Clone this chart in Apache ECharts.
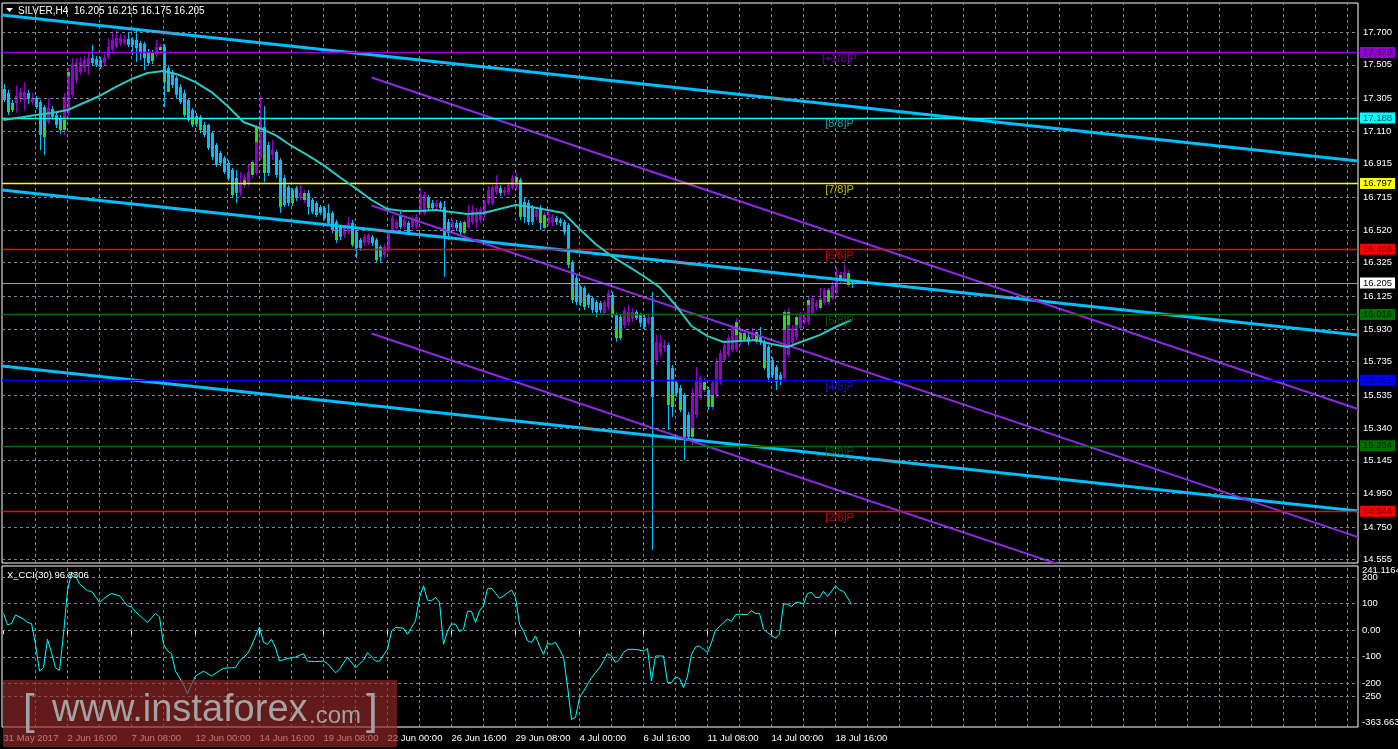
<!DOCTYPE html>
<html><head><meta charset="utf-8">
<script src="https://cdn.jsdelivr.net/npm/echarts/dist/echarts.min.js"></script>
<style>html,body{margin:0;padding:0;background:#000;}#c{width:1398px;height:749px;}</style>
</head><body><div id="c"></div>
<script>
// ---------------- DATA ----------------
const candleOpen = [
17.361,17.337,17.277,17.277,17.301,17.295,17.337,17.283,17.307,17.283,
17.253,17.164,17.241,17.206,17.188,17.116,17.218,17.325,17.414,17.462,
17.486,17.504,17.545,17.539,17.533,17.516,17.551,17.593,17.611,17.635,
17.635,17.659,17.653,17.653,17.635,17.629,17.581,17.575,17.563,17.593,
17.611,17.486,17.462,17.426,17.372,17.337,17.295,17.235,17.200,17.194,
17.146,17.146,17.098,17.027,16.979,16.949,16.920,16.878,16.830,16.741,
16.788,16.800,16.848,16.860,16.949,17.134,17.027,16.967,16.985,16.937,
16.830,16.776,16.759,16.770,16.711,16.699,16.741,16.699,16.681,16.657,
16.651,16.622,16.622,16.568,16.538,16.490,16.508,16.562,16.508,16.461,
16.443,16.443,16.479,16.461,16.419,16.371,16.401,16.508,16.532,16.610,
16.538,16.562,16.538,16.538,16.628,16.622,16.717,16.681,16.657,16.681,
16.657,16.568,16.538,16.562,16.562,16.502,16.538,16.568,16.568,16.580,
16.610,16.681,16.681,16.747,16.770,16.741,16.747,16.770,16.776,16.818,
16.687,16.681,16.651,16.598,16.651,16.532,16.562,16.562,16.592,16.580,
16.568,16.550,16.329,16.234,16.181,16.175,16.133,16.115,16.091,16.085,
16.026,16.061,16.133,16.014,16.002,15.954,15.972,15.996,16.031,16.014,
15.996,15.966,16.002,15.745,15.793,15.817,15.835,15.698,15.608,15.578,
15.537,15.418,15.287,15.418,15.519,15.567,15.567,15.465,15.537,15.614,
15.745,15.775,15.805,15.805,15.853,15.865,15.882,15.877,15.853,15.882,
15.847,15.823,15.745,15.704,15.656,15.638,15.775,15.847,15.882,15.936,
15.972,15.972,16.026,16.061,16.055,16.085,16.091,16.115,16.145,16.222,
16.222,16.192,16.205];
const candleHigh = [
17.390,17.355,17.295,17.384,17.367,17.402,17.355,17.337,17.319,17.295,
17.265,17.307,17.259,17.223,17.206,17.337,17.486,17.545,17.545,17.551,
17.557,17.581,17.623,17.557,17.551,17.569,17.665,17.700,17.712,17.688,
17.682,17.694,17.670,17.724,17.647,17.641,17.599,17.593,17.653,17.629,
17.629,17.504,17.474,17.438,17.390,17.355,17.307,17.247,17.218,17.206,
17.164,17.152,17.110,17.039,16.991,16.961,16.937,16.890,16.878,16.866,
16.854,16.908,16.937,17.146,17.325,17.259,17.045,17.057,16.997,16.949,
16.848,16.788,16.770,16.782,16.788,16.759,16.759,16.711,16.693,16.669,
16.663,16.675,16.633,16.580,16.550,16.544,16.598,16.580,16.520,16.473,
16.496,16.502,16.490,16.473,16.431,16.437,16.520,16.610,16.580,16.628,
16.598,16.574,16.610,16.616,16.770,16.747,16.729,16.699,16.699,16.693,
16.693,16.586,16.580,16.580,16.574,16.580,16.669,16.669,16.651,16.657,
16.699,16.782,16.788,16.848,16.788,16.776,16.806,16.848,16.860,16.830,
16.711,16.699,16.669,16.657,16.669,16.628,16.639,16.616,16.604,16.592,
16.580,16.562,16.341,16.252,16.192,16.187,16.145,16.127,16.103,16.097,
16.103,16.163,16.151,16.026,16.014,16.061,16.073,16.055,16.043,16.026,
16.014,16.014,16.151,15.894,15.894,15.865,15.847,15.716,15.626,15.596,
15.549,15.435,15.578,15.704,15.656,15.638,15.584,15.626,15.757,15.805,
15.865,15.894,15.954,15.996,15.936,15.924,15.906,15.936,15.924,15.942,
15.865,15.835,15.763,15.716,15.674,16.043,16.055,15.954,16.014,16.031,
16.026,16.121,16.133,16.103,16.175,16.175,16.175,16.210,16.294,16.270,
16.312,16.282,16.215];
const candleLow = [
17.283,17.206,17.223,17.218,17.283,17.235,17.271,17.265,17.241,16.997,
16.967,17.152,17.176,17.128,17.092,17.086,17.200,17.307,17.390,17.444,
17.462,17.444,17.504,17.492,17.480,17.498,17.539,17.581,17.599,17.617,
17.623,17.611,17.563,17.521,17.533,17.474,17.504,17.510,17.551,17.581,
17.253,17.343,17.367,17.307,17.271,17.194,17.164,17.134,17.134,17.098,
17.074,16.997,16.937,16.896,16.902,16.854,16.812,16.711,16.681,16.723,
16.770,16.782,16.830,16.848,16.937,16.806,16.842,16.937,16.830,16.622,
16.657,16.663,16.663,16.693,16.699,16.681,16.610,16.616,16.598,16.610,
16.580,16.550,16.502,16.443,16.461,16.473,16.496,16.419,16.353,16.395,
16.425,16.431,16.425,16.329,16.324,16.353,16.389,16.496,16.514,16.526,
16.526,16.490,16.526,16.526,16.616,16.610,16.633,16.633,16.639,16.633,
16.240,16.461,16.520,16.514,16.490,16.490,16.526,16.550,16.532,16.562,
16.592,16.669,16.669,16.729,16.723,16.723,16.729,16.759,16.759,16.580,
16.562,16.550,16.550,16.580,16.520,16.520,16.544,16.544,16.550,16.544,
16.490,16.294,16.085,16.073,16.067,16.043,16.055,16.026,16.002,16.026,
16.014,16.043,15.996,15.853,15.865,15.936,15.954,15.972,15.984,15.942,
15.924,15.954,14.613,15.716,15.763,15.793,15.328,15.406,15.525,15.435,
15.149,15.269,15.239,15.400,15.507,15.555,15.447,15.447,15.519,15.596,
15.734,15.763,15.793,15.793,15.835,15.853,15.835,15.865,15.835,15.835,
15.686,15.614,15.638,15.567,15.596,15.626,15.757,15.835,15.865,15.924,
15.954,15.954,16.014,16.043,16.043,16.073,16.073,16.103,16.133,16.204,
16.210,16.181,16.175];
const candleClose = [
17.295,17.223,17.235,17.319,17.343,17.343,17.301,17.307,17.253,17.086,
17.074,17.247,17.194,17.146,17.116,17.313,17.462,17.510,17.516,17.521,
17.533,17.545,17.516,17.504,17.492,17.551,17.611,17.653,17.665,17.665,
17.659,17.623,17.623,17.605,17.581,17.545,17.516,17.527,17.611,17.611,
17.402,17.367,17.384,17.325,17.283,17.206,17.176,17.146,17.152,17.116,
17.086,17.009,16.955,16.908,16.920,16.866,16.830,16.729,16.741,16.800,
16.836,16.866,16.926,17.134,17.194,16.860,16.860,16.997,16.848,16.657,
16.669,16.681,16.681,16.711,16.741,16.741,16.657,16.628,16.610,16.622,
16.592,16.562,16.520,16.461,16.479,16.532,16.562,16.431,16.413,16.413,
16.479,16.490,16.443,16.341,16.359,16.419,16.502,16.592,16.568,16.538,
16.580,16.508,16.592,16.598,16.729,16.729,16.651,16.651,16.681,16.651,
16.479,16.502,16.568,16.532,16.508,16.568,16.622,16.639,16.628,16.639,
16.681,16.759,16.776,16.788,16.741,16.759,16.788,16.830,16.836,16.598,
16.598,16.568,16.568,16.639,16.562,16.610,16.592,16.598,16.568,16.562,
16.508,16.312,16.103,16.091,16.085,16.061,16.073,16.043,16.031,16.043,
16.091,16.145,16.014,15.877,15.877,16.043,16.031,16.031,15.996,15.966,
15.942,15.996,15.525,15.853,15.847,15.835,15.477,15.465,15.549,15.447,
15.287,15.287,15.549,15.626,15.638,15.614,15.465,15.608,15.734,15.787,
15.835,15.877,15.936,15.972,15.906,15.906,15.853,15.912,15.912,15.853,
15.698,15.638,15.656,15.614,15.626,16.031,16.031,15.936,16.002,16.014,
16.002,16.103,16.115,16.085,16.115,16.163,16.163,16.192,16.252,16.252,
16.270,16.264,16.205];

// green (lime) body segments visible on some bars: [bar, top price, bottom price]
const greenSegments = [[1,17.247,17.223],[2,17.265,17.235],[10,17.128,17.074],[14,17.146,17.116],[15,17.176,17.116],[16,17.462,17.438],[37,17.575,17.527],[39,17.611,17.593],[40,17.432,17.402],[41,17.372,17.343],[45,17.247,17.206],[47,17.176,17.146],[48,17.200,17.152],[49,17.146,17.116],[57,16.776,16.729],[60,16.818,16.788],[62,16.926,16.848],[63,17.134,17.045],[65,16.979,16.860],[69,16.717,16.657],[72,16.729,16.681],[75,16.741,16.699],[83,16.496,16.461],[87,16.490,16.431],[93,16.383,16.341],[106,16.681,16.651],[115,16.568,16.502],[124,16.759,16.741],[128,16.836,16.806],[129,16.669,16.598],[134,16.610,16.562],[135,16.610,16.532],[141,16.383,16.312],[142,16.163,16.103],[145,16.103,16.061],[152,16.073,16.014],[153,15.936,15.877],[154,15.924,15.877],[166,15.549,15.477],[167,15.549,15.465],[169,15.489,15.447],[172,15.340,15.287],[175,15.614,15.567],[176,15.519,15.465],[177,15.537,15.465],[183,15.972,15.894],[184,15.906,15.853],[185,15.906,15.865],[188,15.912,15.853],[190,15.745,15.698],[195,16.031,15.924],[196,16.031,15.954],[198,16.002,15.954],[201,16.103,16.073],[204,16.103,16.055],[206,16.163,16.091],[209,16.252,16.222],[211,16.264,16.192]];

// moving average, read every 4 bars: [bar, price]
const maPoints = [[0,17.176],[4,17.190],[8,17.205],[12,17.217],[16,17.235],[20,17.277],[24,17.319],[28,17.372],[32,17.420],[36,17.456],[40,17.468],[44,17.444],[48,17.402],[52,17.342],[56,17.259],[60,17.164],[64,17.128],[68,17.086],[72,17.021],[76,16.967],[80,16.907],[84,16.836],[88,16.770],[92,16.699],[96,16.645],[100,16.633],[104,16.633],[108,16.639],[112,16.627],[116,16.615],[120,16.621],[124,16.645],[128,16.669],[132,16.657],[136,16.639],[140,16.621],[144,16.526],[148,16.437],[152,16.365],[156,16.306],[160,16.246],[164,16.180],[168,16.073],[172,15.948],[176,15.888],[180,15.853],[184,15.859],[188,15.865],[192,15.841],[196,15.823],[200,15.859],[204,15.894],[208,15.942],[212,15.984]];

// CCI(30): [bar, value]
const cciPoints = [[0,63],[1,20],[2,25],[3,57],[5,42],[6,29],[7,25],[8,-53],[9,-154],[10,-141],[11,-34],[12,-84],[13,-141],[14,-151],[15,-15],[16,148],[17,218],[18,205],[19,174],[21,148],[22,146],[24,105],[26,129],[27,138],[29,129],[31,92],[32,88],[33,70],[35,42],[36,29],[38,63],[39,50],[40,-53],[41,-78],[42,-88],[43,-154],[45,-204],[46,-239],[47,-204],[48,-172],[50,-154],[52,-172],[55,-143],[57,-141],[58,-141],[59,-116],[61,-88],[62,-59],[64,12],[65,-46],[66,-53],[67,-34],[68,-65],[69,-116],[71,-106],[73,-101],[75,-88],[76,-116],[78,-118],[80,-116],[81,-126],[83,-160],[84,-147],[86,-101],[88,-141],[90,-113],[91,-84],[93,-116],[94,-116],[96,-72],[97,-3],[98,10],[100,8],[101,-15],[103,35],[104,123],[105,167],[106,113],[107,111],[108,123],[109,105],[110,-53],[111,-3],[112,23],[113,23],[114,-5],[115,4],[116,71],[117,71],[118,29],[119,73],[120,92],[121,155],[122,158],[124,120],[125,129],[127,151],[128,123],[129,23],[130,-3],[131,-40],[132,-46],[133,-22],[134,-59],[135,-91],[136,-50],[137,-53],[138,-46],[139,-72],[140,-101],[141,-210],[142,-336],[143,-327],[144,-254],[145,-229],[147,-179],[149,-141],[150,-116],[151,-88],[152,-97],[153,-122],[154,-109],[155,-84],[156,-72],[158,-72],[160,-78],[161,-69],[162,-191],[163,-97],[165,-97],[166,-197],[167,-197],[168,-176],[169,-181],[170,-216],[171,-172],[172,-91],[173,-63],[174,-59],[175,-72],[176,-84],[177,-46],[178,0],[181,42],[182,33],[183,58],[184,60],[186,58],[187,73],[188,63],[189,63],[190,4],[191,-9],[193,-30],[194,-15],[195,98],[196,98],[197,88],[198,105],[199,105],[200,98],[201,138],[202,142],[203,123],[204,123],[205,146],[206,127],[207,146],[208,167],[209,151],[210,146],[212,96.8306]];

// Murrey math levels
const murreyLevels = [17.578, 17.188, 16.797, 16.406, 16.016, 15.625, 15.234, 14.844];
const murreyNames  = ['[+1/8]P','[8/8]P','[7/8]P','[6/8]P','[5/8]P','[4/8]P','[3/8]P','[2/8]P'];
const currentPrice = 16.205;

// regression channels: [price at left edge, price at right edge]
const blueChannel = [[17.802, 16.931], [16.759, 15.894], [15.710, 14.845]];
const purpleStartBar = 92;
const purpleChannel = [[17.429, 15.453], [16.666, 14.690], [15.903, 13.928]];

// axes
const priceTicks = [17.700,17.505,17.305,17.110,16.915,16.715,16.520,16.325,16.125,15.930,15.735,15.535,15.340,15.145,14.950,14.750,14.555];
const cciTicks = [241.1164, 200, 100, 0, -100, -200, -250, -363.663];
const cciTickLabels = ['241.1164','200','100','0.00','-100','-200','-250','-363.663'];
const dateTickBars = [0,16,32,48,64,80,96,112,128,144,160,176,192,208];
const dateTickLabels = ['31 May 2017','2 Jun 16:00','7 Jun 08:00','12 Jun 00:00','14 Jun 16:00','19 Jun 08:00','22 Jun 00:00','26 Jun 16:00','29 Jun 08:00','4 Jul 00:00','6 Jul 16:00','11 Jul 08:00','14 Jul 00:00','18 Jul 16:00'];
const murreyLabelBar = 209;
const xMin = -0.375, xMax = 338.625;
const yMin = 14.5355, yMax = 17.8731;
const cciMin = -363.663, cciMax = 241.1164;

// ---------------- STYLE ----------------
const FONT = 'Liberation Sans, Arial, sans-serif';
const GRID_COLOR = '#7b8897';
const BEAR = '#00BFFF', BULL = '#9400D3', GREEN = '#1ee01e';
const murreyColors = ['#9400D3','#00FFFF','#FFFF00','#FF0000','#007000','#0000FF','#007000','#FF0000'];
const murreyBoxText = ['#3a0058','#004848','#000000','#700000','#002200','#00006a','#002200','#700000'];
const murreyTextColors = ['#9400D3','#22c4c4','#e8e800','#FF0000','#0b6a0b','#1a1aff','#0b6a0b','#FF0000'];

const gridBars = [];
for (let b = 8; b <= 336; b += 8) gridBars.push(b);

const candleData = candleOpen.map((o, i) => [i, o, candleHigh[i], candleLow[i], candleClose[i]]);

const series = [];
// main grid lines + price axis labels
series.push({
  type: 'line', xAxisIndex: 0, yAxisIndex: 0, data: [], z: 1, silent: true,
  markLine: {
    silent: true, symbol: ['none', 'none'], precision: 6, animation: false,
    lineStyle: { color: GRID_COLOR, type: [3, 3], width: 1 },
    label: { show: true, position: 'end', distance: 5, color: '#fff', fontSize: 9.5, fontFamily: FONT, formatter: p => p.name },
    data: priceTicks.map(v => ({ yAxis: v, name: v.toFixed(3) }))
      .concat(gridBars.map(b => ({ xAxis: b, label: { show: false } })))
  }
});
// CCI grid lines + labels
series.push({
  type: 'line', xAxisIndex: 1, yAxisIndex: 1, data: [], z: 1, silent: true,
  markLine: {
    silent: true, symbol: ['none', 'none'], precision: 6, animation: false,
    lineStyle: { color: GRID_COLOR, type: [3, 3], width: 1 },
    label: { show: true, position: 'end', distance: 4, color: '#fff', fontSize: 9.5, fontFamily: FONT, formatter: p => p.name },
    data: cciTicks.map((v, k) => {
      const edge = (k === 0 || k === cciTicks.length - 1);
      const item = { yAxis: v, name: cciTickLabels[k] };
      if (edge) {
        item.lineStyle = { color: 'rgba(0,0,0,0)' };
        item.label = { offset: [0, k === 0 ? 4 : -5], color: '#fff' };
      }
      return item;
    }).concat(gridBars.map(b => ({ xAxis: b, label: { show: false } })))
  }
});
// Murrey lines with price boxes
series.push({
  type: 'line', xAxisIndex: 0, yAxisIndex: 0, data: [], z: 2, silent: true,
  markLine: {
    silent: true, symbol: ['none', 'none'], precision: 6, animation: false,
    label: { show: true, position: 'end', distance: 2, padding: [1, 3, 0, 3], fontSize: 9.5, fontFamily: FONT, formatter: p => p.name },
    data: murreyLevels.map((v, k) => ({
      yAxis: v, name: v.toFixed(3),
      lineStyle: { color: murreyColors[k], width: 1.3, type: 'solid' },
      label: { backgroundColor: murreyColors[k], color: murreyBoxText[k] }
    })).concat([{
      yAxis: currentPrice, name: currentPrice.toFixed(3),
      lineStyle: { color: '#a0a0a0', width: 1.2, type: 'solid' },
      label: { backgroundColor: '#ffffff', color: '#000000' }
    }])
  }
});
// candles
series.push({
  type: 'custom', xAxisIndex: 0, yAxisIndex: 0, z: 3, silent: true, clip: true,
  data: candleData, encode: { x: 0, y: [1, 2, 3, 4] },
  renderItem: function (params, api) {
    const i = api.value(0), o = api.value(1), h = api.value(2), l = api.value(3), c = api.value(4);
    const pO = api.coord([i, o]), pC = api.coord([i, c]), pH = api.coord([i, h]), pL = api.coord([i, l]);
    const col = c > o ? BULL : BEAR;
    const cx = Math.round(pO[0]) + 0.5;
    const top = Math.min(pO[1], pC[1]), bot = Math.max(pO[1], pC[1]);
    return {
      type: 'group', children: [
        { type: 'line', shape: { x1: cx, y1: pH[1], x2: cx, y2: pL[1] }, style: { stroke: col, lineWidth: 1 } },
        { type: 'rect', shape: { x: cx - 1.5, y: top, width: 3, height: Math.max(bot - top, 1) }, style: { fill: col } }
      ]
    };
  }
});
// green segments
series.push({
  type: 'custom', xAxisIndex: 0, yAxisIndex: 0, z: 3.5, silent: true, clip: true,
  data: greenSegments, encode: { x: 0, y: [1, 2] },
  renderItem: function (params, api) {
    const i = api.value(0);
    const pT = api.coord([i, api.value(1)]), pB = api.coord([i, api.value(2)]);
    const cx = Math.round(pT[0]) + 0.5;
    return { type: 'rect', shape: { x: cx - 1.5, y: pT[1], width: 3, height: Math.max(pB[1] - pT[1], 1) }, style: { fill: GREEN } };
  }
});
// blue regression channel
blueChannel.forEach(([a, b]) => series.push({
  type: 'line', xAxisIndex: 0, yAxisIndex: 0, data: [[xMin, a], [xMax, b]], showSymbol: false, silent: true,
  lineStyle: { color: '#00BFFF', width: 3 }, z: 4
}));
// purple channel
purpleChannel.forEach(([a, b]) => series.push({
  type: 'line', xAxisIndex: 0, yAxisIndex: 0, data: [[purpleStartBar, a], [xMax, b]], showSymbol: false, silent: true,
  lineStyle: { color: '#8A2BE2', width: 2 }, z: 4
}));
// moving average
series.push({
  type: 'line', xAxisIndex: 0, yAxisIndex: 0, data: maPoints, showSymbol: false, silent: true,
  lineStyle: { color: '#2cc9c1', width: 2 }, z: 5
});
// murrey text labels
series.push({
  type: 'scatter', xAxisIndex: 0, yAxisIndex: 0, symbolSize: 0, silent: true, z: 6,
  data: murreyLevels.map((v, k) => ({ value: [murreyLabelBar, v], label: { color: murreyTextColors[k] } })),
  label: { show: true, position: 'bottom', distance: 1, fontSize: 11, fontFamily: FONT, formatter: p => murreyNames[p.dataIndex] }
});
// CCI line
series.push({
  type: 'line', xAxisIndex: 1, yAxisIndex: 1, data: cciPoints, showSymbol: false, silent: true,
  lineStyle: { color: '#00FFFF', width: 1 }, z: 5
});

const last = candleOpen.length - 1;
const headerText = 'SILVER,H4  ' + [candleOpen[last], candleHigh[last], candleLow[last], candleClose[last]].map(v => v.toFixed(3)).join(' ');
const cciText = 'X_CCI(30) ' + cciPoints[cciPoints.length - 1][1].toFixed(4);

const option = {
  backgroundColor: '#000',
  animation: false,
  grid: [
    { left: 2, top: 3, width: 1356, height: 560, show: true, borderColor: '#ffffff', borderWidth: 1, backgroundColor: 'transparent' },
    { left: 2, top: 566, width: 1356, height: 161, show: true, borderColor: '#ffffff', borderWidth: 1, backgroundColor: 'transparent' }
  ],
  xAxis: [
    { type: 'value', gridIndex: 0, min: xMin, max: xMax, show: false },
    { type: 'value', gridIndex: 1, min: xMin, max: xMax,
      axisLine: { show: false }, splitLine: { show: false },
      axisTick: { show: true, customValues: dateTickBars, length: 4, lineStyle: { color: '#ffffff' } },
      axisLabel: { show: true, customValues: dateTickBars, formatter: v => dateTickLabels[dateTickBars.indexOf(v)] || '',
        color: '#ffffff', fontSize: 9.5, fontFamily: FONT, align: 'left', margin: 6 } }
  ],
  yAxis: [
    { type: 'value', gridIndex: 0, min: yMin, max: yMax, show: false },
    { type: 'value', gridIndex: 1, min: cciMin, max: cciMax, show: false }
  ],
  graphic: [
    { type: 'polygon', z: 100, shape: { points: [[6, 8], [13, 8], [9.5, 12]] }, style: { fill: '#ffffff' } },
    { type: 'text', z: 100, x: 18, y: 11, style: { text: headerText, fill: '#ffffff', font: '10px Liberation Sans', verticalAlign: 'middle', textVerticalAlign: 'middle' } },
    { type: 'text', z: 100, x: 7, y: 575, style: { text: cciText, fill: '#ffffff', font: '9.5px Liberation Sans', verticalAlign: 'middle', textVerticalAlign: 'middle' } },
    { type: 'rect', z: 110, shape: { x: 3, y: 680, width: 394, height: 67 }, style: { fill: 'rgba(150,40,40,0.65)' } },
    { type: 'text', z: 111, x: 23, y: 712, style: { text: '[', fill: '#a3a3a3', font: '42px Liberation Sans', verticalAlign: 'middle', textVerticalAlign: 'middle' } },
    { type: 'text', z: 111, x: 52, y: 711, style: { text: 'www.instaforex', fill: '#a3a3a3', font: '38px Liberation Sans', verticalAlign: 'middle', textVerticalAlign: 'middle' } },
    { type: 'text', z: 111, x: 309, y: 716, style: { text: '.com', fill: '#a3a3a3', font: '24px Liberation Sans', verticalAlign: 'middle', textVerticalAlign: 'middle' } },
    { type: 'text', z: 111, x: 366, y: 712, style: { text: ']', fill: '#a3a3a3', font: '42px Liberation Sans', verticalAlign: 'middle', textVerticalAlign: 'middle' } }
  ],
  series: series
};

const chart = echarts.init(document.getElementById('c'));
chart.setOption(option);
</script>
</body></html>
